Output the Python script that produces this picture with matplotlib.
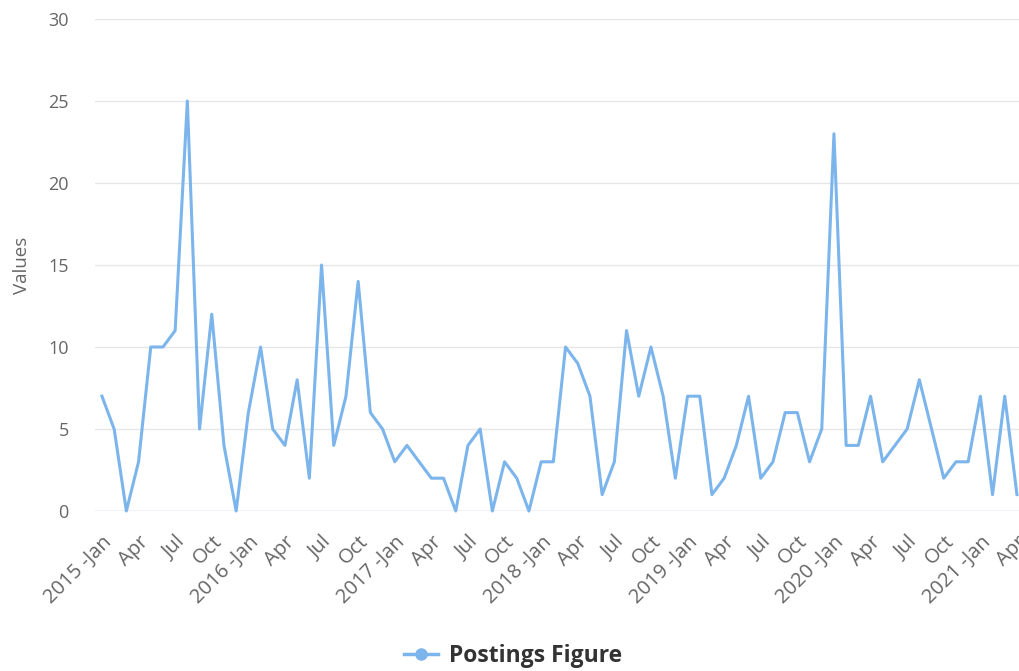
import numpy as np
import matplotlib.pyplot as plt
from matplotlib.lines import Line2D

plt.rcParams["font.family"] = ["Open Sans", "DejaVu Sans"]

# monthly postings, Jan 2015 .. Apr 2021
postings = [7, 5, 0, 3, 10, 10, 11, 25, 5, 12, 4, 0,
            6, 10, 5, 4, 8, 2, 15, 4, 7, 14, 6, 5,
            3, 4, 3, 2, 2, 0, 4, 5, 0, 3, 2, 0,
            3, 3, 10, 9, 7, 1, 3, 11, 7, 10, 7, 2,
            7, 7, 1, 2, 4, 7, 2, 3, 6, 6, 3, 5,
            23, 4, 4, 7, 3, 4, 5, 8, 5, 2, 3, 3,
            7, 1, 7, 1]
years = [2015, 2016, 2017, 2018, 2019, 2020, 2021]
quarter_months = ["Jan", "Apr", "Jul", "Oct"]

line_color = "#7cb5ec"
grid_color = "#e6e6e6"
label_color = "#666666"

months = np.arange(len(postings))
tick_pos = months[::3]
tick_labels = []
for k in range(len(tick_pos)):
    m = quarter_months[k % 4]
    if m == "Jan":
        tick_labels.append(f"{years[k // 4]} -Jan")
    else:
        tick_labels.append(m)

fig = plt.figure(figsize=(10.2, 6.71), dpi=100)
ax = fig.add_axes([95 / 1020, 160 / 671, 925 / 1020, 492 / 671])

ax.plot(months, postings, color=line_color, linewidth=2.2, clip_on=False, zorder=3)

ax.set_xlim(-0.57, 75.25)
ax.set_ylim(0, 30)
ax.set_yticks(range(0, 31, 5))
ax.grid(axis="y", color=grid_color, linewidth=1)
ax.set_axisbelow(True)
for side in ["top", "right", "left", "bottom"]:
    ax.spines[side].set_visible(False)
ax.axhline(0, color="#ccd6eb", linewidth=1, zorder=1)

ax.set_xticks(tick_pos)
ax.set_xticklabels(tick_labels, rotation=45, ha="right", rotation_mode="anchor")
ax.tick_params(axis="x", length=0, pad=15, labelsize=14.5, labelcolor=label_color)
ax.tick_params(axis="y", length=0, pad=19, labelsize=13, labelcolor=label_color)
ax.set_ylabel("Values", fontsize=13.5, color=label_color, labelpad=12)

handle = Line2D([], [], color=line_color, linewidth=2.5, marker="o", markersize=8)
fig.legend([handle], ["Postings Figure"], loc="center", bbox_to_anchor=(0.503, 1 - 656 / 671),
           frameon=False, prop={"weight": "bold", "size": 16.5}, handlelength=1.5,
           handletextpad=0.5, labelcolor="#333333")

fig.savefig("out.png", dpi=100)
